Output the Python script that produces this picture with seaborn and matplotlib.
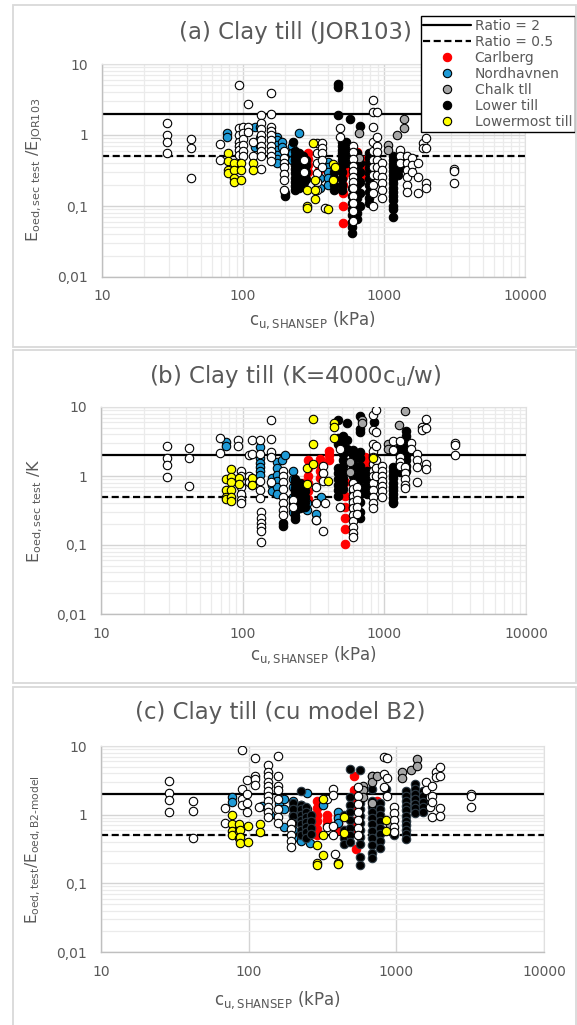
import pandas as pd
import matplotlib
matplotlib.use('Agg')
import matplotlib.pyplot as plt
import seaborn as sns
from matplotlib.lines import Line2D
from matplotlib.patches import Rectangle
from matplotlib.ticker import LogLocator, NullFormatter

# ---- data: (cu in kPa, [ratios...]) per column ----
# panel (a) Clay till (JOR103)
a_white = [(29, [1.47, 1.0, 0.8, 0.55]), (43, [0.87, 0.65, 0.25]), (69, [0.74, 0.44]),
           (93, [5.0, 1.24, 1.0, 0.8, 0.69, 0.62, 0.52]), (100, [1.3, 1.06, 0.87, 0.72, 0.6, 0.5]),
           (109, [2.7, 1.3, 1.1]), (117, [0.8, 0.5]),
           (135, [1.9, 1.47, 1.2, 1.0, 0.86, 0.69, 0.6, 0.5, 0.33]),
           (158, [3.95, 2.0, 1.3, 1.15, 1.0, 0.86, 0.69, 0.6, 0.5, 0.43]),
           (195, [0.6, 0.48, 0.4, 0.35, 0.28, 0.23, 0.17]), (270, [0.45, 0.3]),
           (335, [0.76, 0.55, 0.4, 0.29, 0.22, 0.17]), (365, [0.77, 0.66, 0.55, 0.44, 0.35]),
           (380, [0.095]), (490, [1.24, 0.95]),
           (606, [0.69, 0.57, 0.46, 0.37, 0.31, 0.26, 0.22, 0.18, 0.14, 0.11, 0.085, 0.062]),
           (830, [3.1, 2.1, 1.3, 0.8, 0.6, 0.45, 0.35, 0.27, 0.2, 0.15, 0.1]),
           (887, [2.1, 0.95, 0.7, 0.58, 0.45, 0.36, 0.27]), (963, [0.4, 0.32, 0.26, 0.21, 0.17, 0.13]),
           (1300, [0.62, 0.5, 0.4]), (1450, [0.5, 0.4, 0.32, 0.26, 0.2, 0.16]), (1590, [0.48, 0.38, 0.3]),
           (1740, [0.4, 0.26, 0.15]), (1890, [0.77, 0.65]), (2000, [0.9, 0.65, 0.21, 0.18]),
           (3150, [0.33, 0.31, 0.21])]
a_carlberg = [(290, [0.55, 0.46, 0.38, 0.3]), (345, [0.38, 0.32]), (420, [0.28]),
              (515, [0.26, 0.2, 0.15, 0.1, 0.057]), (540, [0.6, 0.5, 0.42, 0.35, 0.3]),
              (640, [0.58, 0.5, 0.42]), (720, [0.44, 0.37, 0.32, 0.27])]
a_nordhavnen = [(77, [1.06, 0.93]), (122, [1.3, 0.77, 0.67]), (133, [1.3, 0.9, 0.7]),
                (160, [1.0, 0.9, 0.8, 0.72, 0.62]), (175, [0.95, 0.85, 0.72, 0.62, 0.52, 0.46, 0.4]),
                (190, [0.8, 0.68]), (221, [0.69, 0.55, 0.45]), (248, [1.07]),
                (240, [0.36, 0.3, 0.24, 0.18]), (270, [0.3, 0.22]), (350, [0.25, 0.18]),
                (400, [0.42, 0.35, 0.3, 0.25, 0.2])]
a_chalk = [(670, [1.05, 0.47]), (1060, [0.73, 0.62]), (1230, [1.0]), (1390, [1.67, 1.27])]
a_lower = [(197, [0.15, 0.14]), (228, [0.8]),
           (235, [0.6, 0.5, 0.44, 0.38, 0.33, 0.29, 0.25, 0.22, 0.19, 0.17]),
           (250, [0.55, 0.47, 0.41, 0.36, 0.31, 0.27, 0.24, 0.21, 0.18]),
           (265, [0.5, 0.43, 0.37, 0.32, 0.28, 0.24, 0.2]), (280, [0.45, 0.38, 0.3, 0.24]),
           (440, [0.3, 0.25, 0.2, 0.17]), (475, [5.3, 4.8, 1.9]), (570, [1.67]), (676, [1.35]),
           (500, [0.8, 0.7, 0.62, 0.55, 0.5, 0.44, 0.38, 0.3, 0.24, 0.2, 0.17]),
           (540, [0.8, 0.7, 0.6, 0.5, 0.4]),
           (590, [0.18, 0.14, 0.11, 0.09, 0.075, 0.06, 0.05, 0.042]),
           (640, [0.55, 0.45, 0.36, 0.3, 0.25, 0.2, 0.16, 0.13, 0.1, 0.08, 0.065]),
           (680, [0.4, 0.3, 0.22, 0.15, 0.1]),
           (780, [0.55, 0.47, 0.4, 0.34, 0.29, 0.24, 0.2, 0.16, 0.13, 0.11]),
           (1165, [0.5, 0.44, 0.39, 0.35, 0.31, 0.27, 0.24, 0.21, 0.18, 0.16, 0.14, 0.12, 0.1, 0.09, 0.071]),
           (1250, [0.45, 0.38, 0.32, 0.27]), (1350, [0.5, 0.42, 0.35])]
a_lowermost = [(78, [0.55, 0.43, 0.32, 0.29]), (86, [0.4, 0.32, 0.25, 0.22]), (96, [0.4, 0.32, 0.23]),
               (118, [0.4, 0.32]), (283, [0.17, 0.1, 0.095]), (316, [0.76]), (325, [0.23, 0.17, 0.125]),
               (400, [0.09]), (438, [0.39, 0.23]), (450, [0.35])]

# panel (b) Clay till (K=4000cu/w)
b_white = [(29, [2.7, 1.8, 1.45, 0.98]), (42, [2.55, 1.85, 0.72]), (69, [3.6, 2.15]), (92, [3.3, 2.7]),
           (98, [1.2, 1.0, 0.82, 0.7, 0.55, 0.45, 0.41]), (110, [2.0, 1.0, 0.82]), (116, [3.3, 2.05, 0.73]),
           (132, [3.3, 2.1, 0.85, 0.62, 0.48]), (134, [0.3, 0.25, 0.21, 0.18, 0.16, 0.11]),
           (158, [6.4, 3.4, 2.2, 1.9, 0.82]), (194, [1.2, 1.0, 0.82, 0.65, 0.5, 0.4, 0.32, 0.27]),
           (228, [0.45, 0.36]), (330, [0.7, 0.4, 0.23]), (370, [1.4, 1.1, 0.85, 0.16]), (381, [0.4]),
           (486, [2.5, 0.36]), (600, [0.8, 0.65, 0.52, 0.42, 0.34, 0.27, 0.22, 0.18, 0.15, 0.13]),
           (640, [0.7, 0.55, 0.45, 0.35, 0.28]),
           (836, [7.6, 4.7, 2.9, 2.3, 1.9, 1.5, 1.2, 1.0, 0.8, 0.62, 0.5, 0.4, 0.34]),
           (880, [9.0, 4.4, 2.7, 1.7, 1.3, 1.0]), (955, [1.4, 1.2, 1.0, 0.85, 0.72, 0.6, 0.5]),
           (1150, [3.2, 2.4]), (1300, [3.2, 1.9, 1.6, 1.4]), (1400, [1.36, 1.1, 0.9, 0.75, 0.66]),
           (1550, [3.0, 2.5]), (1700, [2.1, 1.7, 1.36, 0.83]), (1830, [5.2, 4.6]),
           (1970, [6.6, 5.0, 1.5, 1.25]), (3150, [3.05, 2.85, 2.0])]
b_carlberg = [(268, [0.8, 0.65]), (290, [1.7, 1.3, 1.0, 0.8, 0.6, 0.46]), (352, [1.75, 1.5, 1.2, 0.95]),
              (405, [2.3, 2.0, 1.7]), (527, [0.82, 0.52, 0.36, 0.25, 0.17, 0.105]),
              (730, [1.9, 1.6, 1.35, 1.15, 1.0])]
b_nordhavnen = [(76, [3.1, 2.7]), (132, [2.6, 1.8, 1.55, 1.35, 1.2, 1.05]), (160, [0.93, 0.75, 0.6]),
                (174, [1.6, 1.3, 1.05, 0.85, 0.7, 0.55]), (190, [1.7]), (200, [2.0]),
                (225, [1.2, 0.9, 0.7, 0.5, 0.4, 0.3]), (283, [0.4, 0.32]), (327, [0.28, 0.23]), (360, [0.5])]
b_chalk = [(572, [1.15, 1.6]), (700, [6.5, 5.8]), (836, [2.0]), (1060, [2.95, 2.5]), (1270, [5.4]),
           (1400, [8.7])]
b_lower = [(194, [0.21, 0.19]), (235, [0.9, 0.78, 0.68, 0.6, 0.52, 0.46, 0.4, 0.35, 0.3, 0.26, 0.24]),
           (255, [0.8, 0.7, 0.6, 0.52, 0.45, 0.39, 0.34]), (275, [0.6, 0.5, 0.42, 0.36]),
           (470, [6.4, 3.5, 2.9, 1.3, 1.1, 0.9, 0.75, 0.62, 0.52]),
           (510, [3.8, 3.2, 2.6, 2.1, 1.7, 1.4, 1.15, 0.95, 0.8, 0.65]), (545, [5.9, 3.3, 2.5]),
           (600, [2.4, 2.0, 1.6, 1.3, 1.0, 0.8, 0.6, 0.45, 0.35]),
           (673, [7.5, 4.8, 4.4, 2.2, 1.8, 1.4, 1.1, 0.9, 0.7, 0.55, 0.42, 0.3, 0.25]),
           (760, [1.2, 1.0, 0.8, 0.65, 0.55]), (840, [6.1]),
           (1160, [1.35, 1.2, 1.05, 0.92, 0.8, 0.7, 0.62, 0.55, 0.48, 0.42, 0.4]),
           (1280, [2.6, 2.2, 1.9, 1.6, 1.35, 1.15]), (1420, [4.5, 3.8, 3.2, 2.7, 2.3, 2.0, 1.7, 1.4, 1.2])]
b_lowermost = [(76, [0.9, 0.62, 0.49, 0.46]), (83, [1.25, 0.97, 0.82, 0.62, 0.49, 0.44]), (94, [0.93, 0.76]),
               (117, [0.92, 0.74]), (283, [1.3, 0.77]), (315, [6.7, 2.95, 1.5]), (400, [0.85]),
               (440, [5.9, 5.1, 3.5]), (836, [1.8])]

# panel (c) Clay till (cu model B2)
c_white = [(29, [3.1, 2.1, 1.62, 1.1]), (42, [1.58, 1.13, 0.46]), (69, [1.25, 0.75]),
           (90, [8.8, 2.4, 1.7, 1.37]), (98, [3.2, 2.0, 1.5, 1.1]), (110, [6.6, 3.6, 3.3, 2.7]), (117, [1.3]),
           (135, [5.3, 4.2, 3.6, 3.0, 2.6, 2.2, 1.9, 1.6, 1.3, 1.1, 0.93]),
           (159, [7.2, 3.7, 2.6, 2.3, 1.7, 1.2, 0.93, 0.75]), (195, [0.75, 0.62, 0.5, 0.42, 0.34]),
           (340, [1.7, 0.66]), (374, [2.4, 1.95, 0.69, 0.5]), (385, [0.27]),
           (550, [2.5, 1.9, 1.45, 1.1, 0.85, 0.65, 0.5]), (820, [7.0, 3.9, 2.5]), (870, [6.8, 3.4, 1.9]),
           (960, [1.3, 1.05, 0.83, 0.66, 0.56]), (1580, [3.0, 2.25]), (1680, [1.8, 1.3]),
           (1750, [2.6, 1.9, 1.53, 0.92]), (1850, [4.2, 3.5]), (1990, [4.9, 3.7, 1.25, 0.97]),
           (3180, [2.0, 1.85, 1.28])]
c_carlberg = [(288, [1.6, 1.25, 1.0, 0.8, 0.62, 0.5]), (340, [1.0, 0.85, 0.7]), (400, [0.95, 0.75, 0.6]),
              (520, [3.6, 2.3, 1.9, 1.5, 1.2, 0.8, 0.65]), (535, [0.32]), (740, [1.6, 1.3, 1.1, 0.83])]
c_nordhavnen = [(77, [1.8, 1.55]), (124, [1.32]), (140, [1.0]), (160, [1.7, 1.45, 1.2]),
                (174, [1.7, 1.2, 0.66]), (200, [1.6, 1.3, 1.0, 0.8, 0.6, 0.45]),
                (225, [1.4, 1.1, 0.85, 0.55, 0.42]), (250, [2.1, 1.2, 0.7]), (260, [0.39]), (320, [1.37]),
                (400, [1.1, 0.9, 0.75])]
c_chalk = [(598, [2.6, 2.3, 1.8]), (680, [3.7, 3.0, 1.5]), (740, [3.7]), (900, [0.7]), (1086, [4.2, 3.4]),
           (1260, [4.4]), (1370, [6.5, 5.1])]
c_lower = [(200, [1.5, 1.2, 0.95, 0.75]), (225, [2.2, 1.4, 1.2, 1.0, 0.85, 0.72, 0.6, 0.5]),
           (245, [1.3, 1.1, 0.92, 0.78, 0.66, 0.55, 0.46]), (265, [1.0, 0.8, 0.65, 0.52]),
           (440, [1.0, 0.6, 0.45, 0.38]), (485, [4.6, 1.8, 1.4, 1.1, 0.85, 0.65, 0.5, 0.4]),
           (570, [4.4, 1.8, 1.5, 1.2, 0.95, 0.75, 0.6, 0.48, 0.38, 0.24, 0.183]),
           (680, [3.6, 2.4, 1.6, 1.3, 1.1, 0.9, 0.72, 0.58, 0.46, 0.36, 0.28, 0.23]),
           (775, [1.5, 1.2, 1.0, 0.8, 0.65, 0.52, 0.42, 0.33]), (850, [2.4]), (960, [0.5]),
           (1170, [2.2, 1.9, 1.6, 1.35, 1.15, 0.97, 0.82, 0.7, 0.6, 0.52, 0.44]),
           (1340, [2.8, 2.4, 2.0, 1.7, 1.45, 1.25, 1.05]), (1520, [2.2, 1.85, 1.55, 1.3, 1.1])]
c_lowermost = [(77, [1.0, 0.72, 0.57, 0.51]), (86, [0.72, 0.57, 0.45]), (88, [0.6, 0.47, 0.39]),
               (99, [0.69, 0.4]), (119, [0.72, 0.56]), (288, [0.36, 0.2, 0.185]), (320, [1.7, 0.5, 0.26]),
               (400, [0.2, 0.19]), (440, [0.93, 0.54]), (850, [0.83, 0.58])]

groups = ['Carlberg', 'Nordhavnen', 'Chalk tll', 'Lower till', 'Lowermost till']
titles = ['(a) Clay till (JOR103)', '(b) Clay till (K=4000c$_{u}$/w)', '(c) Clay till (cu model B2)']
ylabels = ['E$_{oed,sec\\ test}$ /E$_{JOR103}$', 'E$_{oed,sec\\ test}$ /K', 'E$_{oed,test}$/E$_{oed,B2\\text{-}model}$']
xlabel = 'c$_{u,SHANSEP}$ (kPa)'
xticks = [10, 100, 1000, 10000]
xticklabels = ['10', '100', '1000', '10000']
yticks = [0.01, 0.1, 1, 10]
yticklabels = ['0,01', '0,1', '1', '10']

# build one long table
rows = []
sets = {
    0: [('other', a_white), ('Carlberg', a_carlberg), ('Nordhavnen', a_nordhavnen), ('Chalk tll', a_chalk),
        ('Lower till', a_lower), ('Lowermost till', a_lowermost)],
    1: [('other', b_white), ('Carlberg', b_carlberg), ('Nordhavnen', b_nordhavnen), ('Chalk tll', b_chalk),
        ('Lower till', b_lower), ('Lowermost till', b_lowermost)],
    2: [('other', c_white), ('Carlberg', c_carlberg), ('Nordhavnen', c_nordhavnen), ('Chalk tll', c_chalk),
        ('Lower till', c_lower), ('Lowermost till', c_lowermost)],
}
for p, lst in sets.items():
    for g, cols in lst:
        for xv, ys in cols:
            for yv in ys:
                rows.append({'panel': p, 'group': g, 'x': xv, 'y': yv})
df = pd.DataFrame(rows)

# styles
fill = {'other': 'white', 'Carlberg': '#ff0000', 'Nordhavnen': '#1e9ad6', 'Chalk tll': '#a6a6a6',
        'Lower till': 'black', 'Lowermost till': '#ffff00'}
edge = {'other': 'black', 'Carlberg': '#ff0000', 'Nordhavnen': 'black', 'Chalk tll': 'black',
        'Lower till': 'black', 'Lowermost till': 'black'}
draw_order = ['Carlberg', 'Nordhavnen', 'Lower till', 'Chalk tll', 'other', 'Lowermost till']

sns.set_style('white')
plt.rcParams['font.family'] = ['DejaVu Sans']
plt.rcParams['mathtext.default'] = 'regular'
grey_txt = '#595959'

W, H = 577, 1025
fig = plt.figure(figsize=(W / 100, H / 100), dpi=100)


def fx(px):
    return px / W


def fy(py):
    return 1 - py / H


# panel frames (pixel coords: left, top, right, bottom)
frames = [(13, 5, 576, 347), (13, 350, 576, 683), (13, 687, 576, 1030)]
for l, t, r, b in frames:
    fig.add_artist(Rectangle((fx(l), fy(b)), fx(r) - fx(l), (b - t) / H, transform=fig.transFigure,
                             fill=False, edgecolor='#d9d9d9', lw=1.3))

axes_px = [(102, 64, 525, 277), (101, 407, 526, 614), (101, 746, 544, 952)]
title_pos = [(295, 32), (295, 376), (280, 713)]
xlab_pos = [(312, 320), (313, 655), (277, 1000)]
ylab_pos = [(35, 170), (35, 511), (33, 850)]

for i, (l, t, r, b) in enumerate(axes_px):
    ax = fig.add_axes([fx(l), fy(b), fx(r) - fx(l), (b - t) / H])
    sub = df[df.panel == i]
    for g in draw_order:
        d = sub[sub.group == g]
        ec = edge[g]
        if i == 2 and g == 'Lower till':
            ec = '#2c3a44'
        sns.scatterplot(data=d, x='x', y='y', color=fill[g], edgecolor=ec, linewidth=0.8, s=37,
                        ax=ax, legend=False, zorder=3)
    ax.set_xscale('log')
    ax.set_yscale('log')
    ax.set_xlim(10, 10000)
    ax.set_ylim(0.01, 10)
    ax.set_xticks(xticks, xticklabels)
    ax.set_yticks(yticks, yticklabels)
    ax.xaxis.set_minor_locator(LogLocator(base=10, subs=range(2, 10)))
    ax.yaxis.set_minor_locator(LogLocator(base=10, subs=range(2, 10)))
    ax.xaxis.set_minor_formatter(NullFormatter())
    ax.yaxis.set_minor_formatter(NullFormatter())
    ax.tick_params(which='both', length=0, labelsize=10, labelcolor=grey_txt)
    ax.tick_params(axis='x', pad=9)
    ax.tick_params(axis='y', pad=10)
    ax.set_axisbelow(True)
    ax.grid(True, which='major', color='#d4d4d4', lw=1.0)
    ax.grid(True, which='minor', color='#ebebeb', lw=0.9)
    if i == 2:
        ax.xaxis.grid(False, which='minor')
    for s in ['left', 'bottom']:
        ax.spines[s].set_color('#bfbfbf')
        ax.spines[s].set_linewidth(1.0)
    for s in ['top', 'right']:
        ax.spines[s].set_color('#e0e0e0')
    ax.axhline(2, color='black', lw=1.6, zorder=2)
    ax.axhline(0.5, color='black', lw=1.6, ls=(0, (3.2, 1.6)), zorder=2)
    ax.set_xlabel('')
    ax.set_ylabel('')

    fig.text(fx(title_pos[i][0]), fy(title_pos[i][1]), titles[i], ha='center', va='center',
             fontsize=16.5, color=grey_txt)
    fig.text(fx(xlab_pos[i][0]), fy(xlab_pos[i][1]), xlabel, ha='center', va='center',
             fontsize=12, color=grey_txt)
    fig.text(fx(ylab_pos[i][0]), fy(ylab_pos[i][1]), ylabels[i], ha='center', va='center',
             rotation=90, fontsize=11.5 if i < 2 else 11, color=grey_txt)

    if i == 0:
        handles = [Line2D([], [], color='black', lw=1.6),
                   Line2D([], [], color='black', lw=1.6, ls=(0, (3.2, 1.6)))]
        for g in groups:
            handles.append(Line2D([], [], marker='o', ls='none', markersize=6,
                                  markerfacecolor=fill[g], markeredgecolor=edge[g], markeredgewidth=0.8))
        leg = ax.legend(handles, ['Ratio = 2', 'Ratio = 0.5'] + groups, loc='upper right',
                        bbox_to_anchor=(fx(575), fy(16)), bbox_transform=fig.transFigure,
                        borderaxespad=0, fontsize=10, labelcolor=grey_txt, handlelength=3.4,
                        labelspacing=0.15, borderpad=0.2, handletextpad=0.3, fancybox=False,
                        framealpha=1, edgecolor='black')
        leg.get_frame().set_linewidth(1.0)
        leg.set_zorder(10)

fig.savefig('out.png', dpi=100)
